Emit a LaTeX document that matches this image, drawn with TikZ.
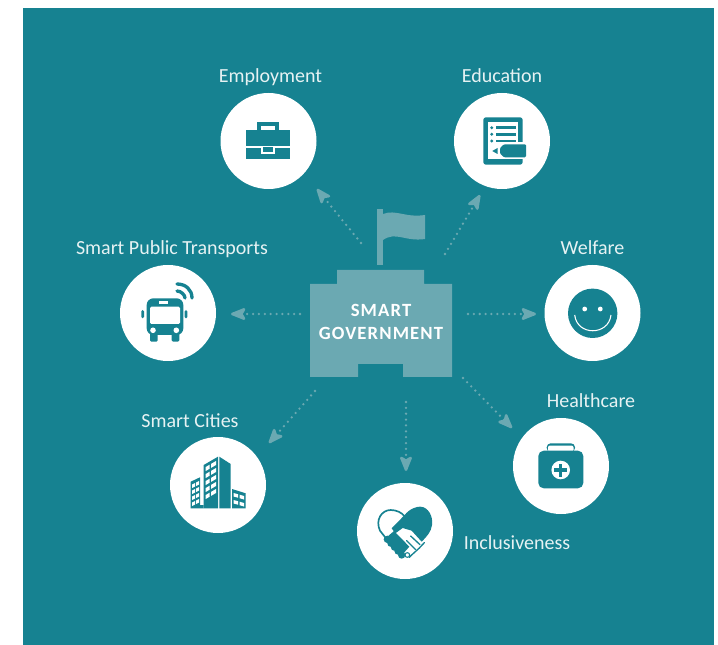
\documentclass[tikz,border=0pt]{standalone}
\usepackage{fontspec}
\setmainfont{Carlito}
\usetikzlibrary{arrows.meta,calc}
\definecolor{govteal}{HTML}{168291}
\definecolor{govpale}{HTML}{6BA9B2}
\definecolor{govlabel}{HTML}{E6F2F3}
\tikzset{
  topic/.style={circle,fill=white,minimum size=72pt,inner sep=0pt},
  toplabel/.style={text=govlabel,font=\fontsize{15}{17}\selectfont,inner sep=0pt,anchor=base},
  spoke/.style={draw=govpale,line width=1.9pt,line cap=round,dash pattern=on 0pt off 4.4pt,
    -{Stealth[length=13.5pt,width=10.5pt,inset=3pt,fill=govpale,round=false]}},
  ink/.style={fill=govteal,draw=none},
  blank/.style={fill=white,draw=none},
}
\begin{document}
\begin{tikzpicture}[x=0.75pt,y=-0.75pt]
  \useasboundingbox (0,0) rectangle (718,645);
  \fill[govteal] (23,8) rectangle (714,645);

  % building and flag
  \fill[govpale] (337,270) -- (424,270) -- (424,284) -- (452,284) -- (452,377) -- (403,377) -- (403,364)
    -- (358,364) -- (358,377) -- (310,377) -- (310,284) -- (337,284) -- cycle;
  \fill[govpale] (377,209) rectangle (383,265);
  \fill[govpale] (383,214) .. controls (396,209) and (405,218) .. (425,215) -- (425,239)
    .. controls (405,242) and (396,231) .. (383,240) -- cycle;
  \node (hub) [text=white,align=center,inner sep=0pt,font=\fontsize{14}{17.25}\selectfont\bfseries\addfontfeature{LetterSpace=6}]
    at (381,321.5) {SMART\\GOVERNMENT};

  % topics
  \node (employment) [topic] at (268.5,141) {};
  \node (education) [topic] at (502,141) {};
  \node (transport) [topic] at (168,313) {};
  \node (welfare) [topic] at (592.5,313) {};
  \node (cities) [topic] at (218,485) {};
  \node (inclusive) [topic] at (405,531) {};
  \node (healthcare) [topic] at (561,466) {};

  \node (employmentlabel) [toplabel] at (270.5,83) {Employment};
  \node (educationlabel) [toplabel] at (502,83) {Education};
  \node (transportlabel) [toplabel] at (172,255) {Smart Public Transports};
  \node (welfarelabel) [toplabel] at (592.5,255) {Welfare};
  \node (citieslabel) [toplabel] at (190,427) {Smart Cities};
  \node (inclusivelabel) [toplabel] at (517,549) {Inclusiveness};
  \node (healthcarelabel) [toplabel] at (591,407) {Healthcare};

  % spokes
  \coordinate (s1) at (361,243); \coordinate (e1) at (317,189);
  \coordinate (s2) at (445,254); \coordinate (e2) at (480,195);
  \coordinate (s3) at (300,314); \coordinate (e3) at (231,314);
  \coordinate (s4) at (468,314); \coordinate (e4) at (536,314);
  \coordinate (s5) at (315,391); \coordinate (e5) at (269,443);
  \coordinate (s6) at (406,402); \coordinate (e6) at (406,471);
  \coordinate (s7) at (463,378); \coordinate (e7) at (512,428);
  \foreach \n in {1,...,7}
    \draw [spoke] (s\n) -- (e\n);

  % briefcase
  \fill[ink] (257,122.3) rectangle (279,131);
  \fill[blank] (261,126) rectangle (275,131);
  \fill[ink] (245.7,130) rectangle (290,146);
  \fill[ink] (245.7,147.7) rectangle (290,159.3);
  \fill[blank] (261,147) rectangle (275,154);
  \fill[ink] (263.3,147) rectangle (272.7,151.7);

  % notepad
  \fill[ink,rounded corners=2pt] (483.3,117.3) rectangle (522.7,164.7);
  \fill[blank] (488.3,121.7) rectangle (518.3,159.3);
  \foreach \y in {127.7,134.3,141} {
    \fill[ink] (491.7,\y) circle (1.6);
    \fill[ink] (496,\y-1.4) rectangle (516,\y+1.4);
  }
  \fill[blank] (496,142.5) rectangle (522.7,159.3);
  \fill[ink,rounded corners=.8pt] (500,148) -- (504,144.3) -- (526,144.3) -- (526,157.3) -- (504,157.3) -- (500,153.5) -- cycle;
  \fill[ink] (492.3,151) -- (497.5,148) -- (497.5,154) -- cycle;

  % bus
  \fill[ink,rounded corners=5pt] (146.7,298.3) -- (183.3,298.3) -- (183.3,335) -- (146.7,335) -- cycle;
  \fill[ink,rounded corners=1pt] (150,333) rectangle (157.7,341.7);
  \fill[ink,rounded corners=1pt] (171.7,333) rectangle (179.3,341.7);
  \fill[blank,rounded corners=1pt] (150,306.7) rectangle (180,324);
  \fill[blank] (159,301) rectangle (168.3,304);
  \fill[blank] (153,330.3) circle (2.8);
  \fill[blank] (176.3,330.3) circle (2.8);
  \fill[ink,rounded corners=1pt] (141.3,310) rectangle (144,318.3);
  \fill[ink,rounded corners=1pt] (184.7,310) rectangle (187.3,318.3);
  \draw[govteal,line width=2.5pt,line cap=round] (177,284) .. controls (186,284) and (192,290) .. (192,298);
  \draw[govteal,line width=2.5pt,line cap=round] (177,291) .. controls (181,291) and (185,295) .. (185,298);

  % buildings
  \fill[ink] (203.7,465) -- (218,456.7) -- (218,508.3) -- (203.7,508.3) -- cycle;
  \fill[ink] (219.3,456.7) -- (230.7,464) -- (230.7,508.3) -- (219.3,508.3) -- cycle;
  \fill[ink] (190.7,481.7) -- (200,477.3) -- (200,505) -- (203.7,505) -- (203.7,508.3) -- (190.7,508.3) -- cycle;
  \fill[ink] (232,489) -- (245.7,493.3) -- (245.7,508.3) -- (232,508.3) -- cycle;
  \foreach \r in {0,...,4} {
    \fill[blank] (205.7,467+7*\r) -- (209.7,464.7+7*\r) -- (209.7,468.7+7*\r) -- (205.7,471+7*\r) -- cycle;
    \fill[blank] (211.2,463.8+7*\r) -- (216,461+7*\r) -- (216,465+7*\r) -- (211.2,467.8+7*\r) -- cycle;
  }
  \foreach \r in {0,...,3} {
    \fill[blank] (192,484.5+6*\r) -- (195,483+6*\r) -- (195,486.5+6*\r) -- (192,488+6*\r) -- cycle;
    \fill[blank] (196,482.5+6*\r) -- (199,481+6*\r) -- (199,484.5+6*\r) -- (196,486+6*\r) -- cycle;
  }
  \foreach \r in {0,1} {
    \fill[blank] (233.5,493+7*\r) -- (238,494.2+7*\r) -- (238,497.7+7*\r) -- (233.5,496.5+7*\r) -- cycle;
    \fill[blank] (239.5,494.7+7*\r) -- (244,496+7*\r) -- (244,499.5+7*\r) -- (239.5,498.2+7*\r) -- cycle;
  }

  % handshake over a heart
  \begin{scope}[shift={(370,500)},x=0.25pt,y=-0.25pt]
    \draw[govteal,line width=1.25pt] (48,115) -- (30,92) .. controls (15,60) and (35,30) .. (62,30)
      .. controls (80,30) and (95,38) .. (103,48);
    \fill[ink] (65,85) -- (103,46) .. controls (120,25) and (140,20) .. (150,20)
      .. controls (175,20) and (190,50) .. (186,75) .. controls (184,95) and (170,110) .. (155,125)
      -- (125,92) -- (98,84) -- (76,100) -- cycle;
    \fill[ink] (50,112) -- (72,93) -- (118,140) -- (96,165) -- cycle;
    \foreach \t in {0,...,4}
      \fill[ink] ($(52,118)!\t/4!(95,165)$) circle (11);
    \draw[govteal,line width=1pt,line cap=round] (163,128) -- (148,144) -- (126,164) -- (118,172);
    \draw[govteal,line width=1pt,line cap=round] (122,108) -- (150,134) (110,122) -- (136,148);
    \draw[govteal,line width=.8pt,fill=white] (112,165) circle (7);
  \end{scope}

  % smile
  \fill[ink] (592.7,313.3) circle (24.7);
  \fill[blank] (584.7,309) circle (2.4);
  \fill[blank] (600.3,309) circle (2.4);
  \draw[white,line width=.8pt] (574.7,315) .. controls (577,336) and (608.5,336) .. (611,315);

  % first aid case
  \fill[ink,rounded corners=3pt] (546.7,443.3) -- (575,443.3) -- (575,452) -- (546.7,452) -- cycle;
  \fill[blank,rounded corners=1.5pt] (548,445.5) -- (573.5,445.5) -- (573.5,452) -- (548,452) -- cycle;
  \fill[ink,rounded corners=4pt] (538.3,450.7) rectangle (583.3,488.3);
  \fill[blank] (560.7,470) circle (9.3);
  \fill[ink] (559,463.5) rectangle (562.4,476.5);
  \fill[ink] (554.2,468.3) rectangle (567.2,471.7);
\end{tikzpicture}
\end{document}
